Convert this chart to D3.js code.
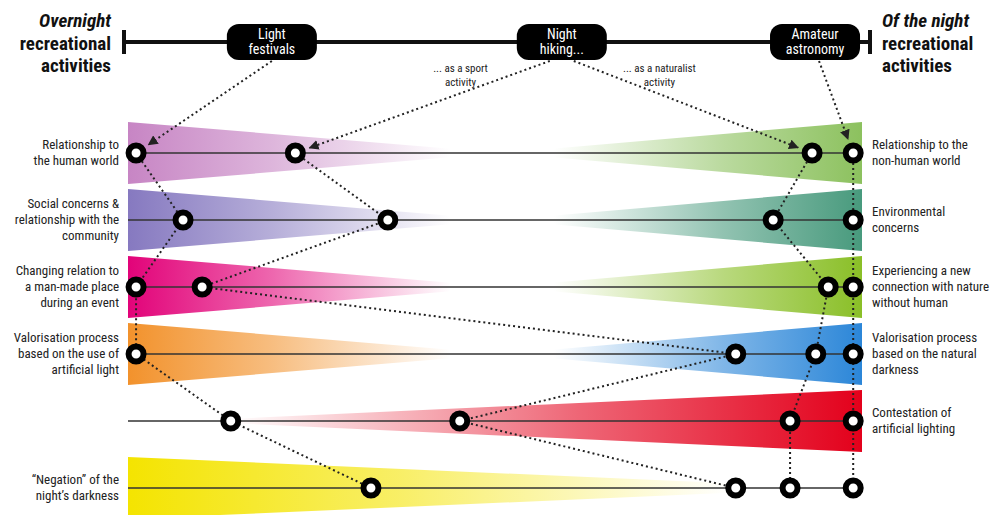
<!DOCTYPE html>
<html>
<head>
<meta charset="utf-8">
<script src="https://cdn.jsdelivr.net/npm/d3@7"></script>
<style>
	body { margin: 0; background: #fff; }
	text { font-family: 'Liberation Sans Narrow', 'Arial Narrow', 'Roboto Condensed', 'Liberation Sans', sans-serif; }
</style>
</head>
<body>
<svg id="chart" width="995" height="515"></svg>
<script>
// rows of the diagram (left = overnight, right = of the night)
var leftLabels = [
	['Relationship to', 'the human world'],
	['Social concerns &', 'relationship with the', 'community'],
	['Changing relation to', 'a man-made place', 'during an event'],
	['Valorisation process', 'based on the use of', 'artificial light'],
	[],
	['\u201CNegation\u201D of the', 'night\u2019s darkness']
];
var rightLabels = [
	['Relationship to the', 'non-human world'],
	['Environmental', 'concerns'],
	['Experiencing a new', 'connection with nature', 'without human'],
	['Valorisation process', 'based on the natural', 'darkness'],
	['Contestation of', 'artificial lighting'],
	[]
];
var leftColors = ['#c785c4', '#8679c0', '#e20379', '#f2922c', null, '#f4e400'];
var rightColors = ['#8cc15e', '#489a7d', '#8abf27', '#2b86d8', '#e3001b', null];

// activities on the top axis (0 = overnight, 100 = of the night)
var activities = [
	{name: ['Light', 'festivals'], pos: 19.6},
	{name: ['Night', 'hiking...'], pos: 59.1},
	{name: ['Amateur', 'astronomy'], pos: 93.6}
];
var subLabels = [
	{text: ['... as a sport', 'activity'], pos: 45.3},
	{text: ['... as a naturalist', 'activity'], pos: 72.4}
];

// paths: position on each row, from the first row down to the last one
var lightFestivals = [1.1, 7.5, 1.1, 1.1, 14.0, 33.1];
var hikingSport = [22.8, 35.4, 10.1, 82.8, 45.2, 82.8];
var hikingNaturalist = [93.2, 87.9, 95.4, 93.7, 90.2, 90.2];
var astronomy = [98.8, 98.8, 98.8, 98.8, 98.8, 98.8];

var paths = [
	{values: lightFestivals, from: 0, dx: 0},
	{values: hikingSport, from: 1, dx: -12},
	{values: hikingNaturalist, from: 1, dx: 12},
	{values: astronomy, from: 2, dx: 4}
];

var svg = d3.select('#chart');
var defs = svg.append('defs');

var x = d3.scaleLinear().domain([0, 100]).range([128, 862]);
var y = d3.scalePoint().domain(d3.range(6)).range([153, 488]);
var halfH = 31;

// wedges
function wedge(row, color, side, apex, fadeEnd) {
	var id = 'g' + side + row;
	var x0 = side === 'l' ? x(0) : x(100);
	var xa = x(apex);
	var grad = defs.append('linearGradient')
		.attr('id', id)
		.attr('gradientUnits', 'userSpaceOnUse')
		.attr('x1', x0).attr('x2', x(fadeEnd))
		.attr('y1', 0).attr('y2', 0);
	grad.append('stop').attr('offset', 0).attr('stop-color', color).attr('stop-opacity', 1);
	grad.append('stop').attr('offset', 0.45).attr('stop-color', color).attr('stop-opacity', 0.6);
	grad.append('stop').attr('offset', 1).attr('stop-color', color).attr('stop-opacity', 0);
	var yc = y(row);
	svg.append('path')
		.attr('d', 'M' + x0 + ',' + (yc - halfH) + 'L' + xa + ',' + yc + 'L' + x0 + ',' + (yc + halfH) + 'Z')
		.style('fill', 'url(#' + id + ')');
}

leftColors.forEach(function (c, i) {
	if (!c) return;
	if (i === 5) wedge(i, c, 'l', 97, 82);
	else wedge(i, c, 'l', 51, 44);
});
rightColors.forEach(function (c, i) {
	if (!c) return;
	if (i === 4) wedge(i, c, 'r', 7.5, 14);
	else wedge(i, c, 'r', 51, 58);
});

// row lines
svg.selectAll('line.row')
	.data(d3.range(6))
	.enter()
	.append('line')
	.attr('class', 'row')
	.attr('x1', x(0)).attr('x2', x(100))
	.attr('y1', function (d) { return y(d); })
	.attr('y2', function (d) { return y(d); })
	.style('stroke', '#333')
	.style('stroke-width', 1.6);

// top axis
var axisY = 42;
svg.append('line')
	.attr('x1', x(0) - 4).attr('x2', x(100) + 8)
	.attr('y1', axisY).attr('y2', axisY)
	.style('stroke', '#111').style('stroke-width', 4);
[x(0) - 4, x(100) + 8].forEach(function (px) {
	svg.append('line')
		.attr('x1', px).attr('x2', px)
		.attr('y1', axisY - 12).attr('y2', axisY + 12)
		.style('stroke', '#111').style('stroke-width', 4);
});

// arrow marker
defs.append('marker')
	.attr('id', 'arrow')
	.attr('viewBox', '0 0 10 10')
	.attr('refX', 9).attr('refY', 5)
	.attr('markerWidth', 5).attr('markerHeight', 5)
	.attr('orient', 'auto')
	.append('path')
	.attr('d', 'M0,0L10,5L0,10Z')
	.style('fill', '#222');

// dotted paths
var boxH = 36;
paths.forEach(function (p) {
	var sx = x(activities[p.from].pos) + p.dx,
		sy = axisY + boxH / 2 + 1,
		tx = x(p.values[0]),
		ty = y(0),
		len = Math.hypot(tx - sx, ty - sy),
		k = (len - 15) / len;
	svg.append('line')
		.attr('x1', sx).attr('y1', sy)
		.attr('x2', sx + (tx - sx) * k).attr('y2', sy + (ty - sy) * k)
		.attr('marker-end', 'url(#arrow)')
		.style('stroke', '#222').style('stroke-width', 2)
		.style('stroke-dasharray', '2,3');

	svg.append('path')
		.datum(p.values)
		.attr('d', d3.line()
			.x(function (d) { return x(d); })
			.y(function (d, i) { return y(i); }))
		.style('fill', 'none')
		.style('stroke', '#222').style('stroke-width', 2)
		.style('stroke-dasharray', '2,3');
});

// circles
var points = [];
paths.forEach(function (p) {
	p.values.forEach(function (v, i) {
		if (!points.some(function (q) { return q.row === i && q.v === v; })) points.push({row: i, v: v});
	});
});
svg.selectAll('circle.pt')
	.data(points)
	.enter()
	.append('circle')
	.attr('class', 'pt')
	.attr('cx', function (d) { return x(d.v); })
	.attr('cy', function (d) { return y(d.row); })
	.attr('r', 7.5)
	.style('fill', '#fff')
	.style('stroke', '#000')
	.style('stroke-width', 6);

// activity boxes
var box = svg.selectAll('g.act')
	.data(activities)
	.enter()
	.append('g')
	.attr('class', 'act')
	.attr('transform', function (d) { return 'translate(' + x(d.pos) + ',' + axisY + ')'; });
box.append('rect')
	.attr('x', -45).attr('y', -boxH / 2)
	.attr('width', 90).attr('height', boxH)
	.attr('rx', 12)
	.style('fill', '#000');
box.append('text')
	.attr('text-anchor', 'middle')
	.style('fill', '#fff')
	.style('font-size', '14px')
	.selectAll('tspan')
	.data(function (d) { return d.name; })
	.enter()
	.append('tspan')
	.attr('x', 0)
	.attr('y', function (d, i) { return i * 15 - 3; })
	.text(function (d) { return d; });

// sub labels
svg.selectAll('text.sub')
	.data(subLabels)
	.enter()
	.append('text')
	.attr('class', 'sub')
	.attr('text-anchor', 'middle')
	.style('font-size', '11px')
	.style('fill', '#222')
	.selectAll('tspan')
	.data(function (d) { return d.text.map(function (t) { return {t: t, pos: d.pos}; }); })
	.enter()
	.append('tspan')
	.attr('x', function (d) { return x(d.pos); })
	.attr('y', function (d, i) { return 72 + i * 14; })
	.text(function (d) { return d.t; });

// side titles
function title(px, anchor, lines) {
	var t = svg.append('text')
		.attr('text-anchor', anchor)
		.style('font-size', '19px')
		.style('font-weight', 'bold')
		.style('fill', '#111');
	lines.forEach(function (l, i) {
		t.append('tspan')
			.attr('x', px)
			.attr('y', 27 + i * 22.5)
			.style('font-style', i === 0 ? 'italic' : 'normal')
			.text(l);
	});
}
title(111, 'end', ['Overnight', 'recreational', 'activities']);
title(882, 'start', ['Of the night', 'recreational', 'activities']);

// row labels
function rowLabels(labels, px, anchor) {
	labels.forEach(function (lines, r) {
		var t = svg.append('text')
			.attr('text-anchor', anchor)
			.style('font-size', '13px')
			.style('fill', '#222');
		lines.forEach(function (l, i) {
			t.append('tspan')
				.attr('x', px)
				.attr('y', y(r) + 4 + (i - (lines.length - 1) / 2) * 16)
				.text(l);
		});
	});
}
rowLabels(leftLabels, 119, 'end');
rowLabels(rightLabels, 872, 'start');
</script>
</body>
</html>
